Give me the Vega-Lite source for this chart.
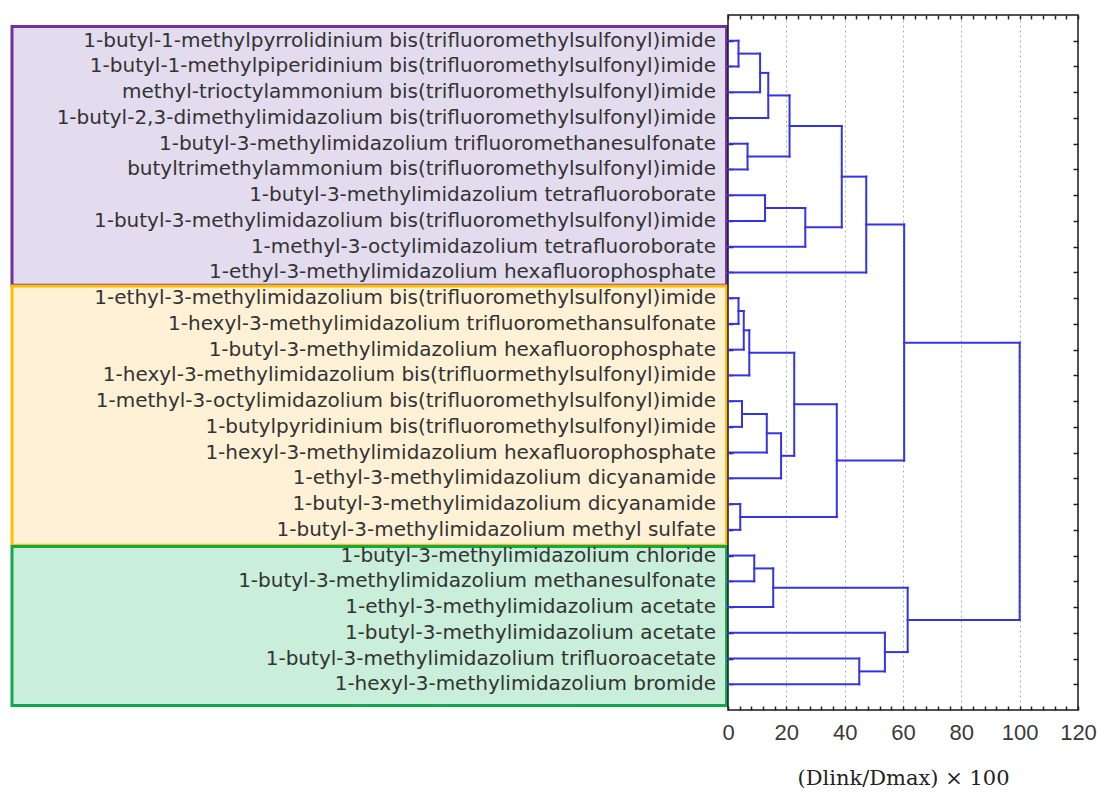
{
  "$schema": "https://vega.github.io/schema/vega-lite/v6.json",
  "padding": {"left": 10, "top": 13, "right": 5, "bottom": 5},
  "bounds": "flush",
  "spacing": 0,
  "background": "white",
  "config": {"view": {"stroke": "#1a1a1a", "strokeWidth": 1.5}},
  "datasets": {
    "groups": [
      {"group": "cluster 1", "start": -0.55, "end": 9.5},
      {"group": "cluster 2", "start": 9.53, "end": 19.6},
      {"group": "cluster 3", "start": 19.65, "end": 25.83}
    ],
    "leaves": [
      {"leaf": 0, "label": "1-butyl-1-methylpyrrolidinium  bis(trifluoromethylsulfonyl)imide"},
      {"leaf": 1, "label": "1-butyl-1-methylpiperidinium  bis(trifluoromethylsulfonyl)imide"},
      {"leaf": 2, "label": "methyl-trioctylammonium  bis(trifluoromethylsulfonyl)imide"},
      {"leaf": 3, "label": "1-butyl-2,3-dimethylimidazolium  bis(trifluoromethylsulfonyl)imide"},
      {"leaf": 4, "label": "1-butyl-3-methylimidazolium  trifluoromethanesulfonate"},
      {"leaf": 5, "label": "butyltrimethylammonium  bis(trifluoromethylsulfonyl)imide"},
      {"leaf": 6, "label": "1-butyl-3-methylimidazolium  tetrafluoroborate"},
      {"leaf": 7, "label": "1-butyl-3-methylimidazolium  bis(trifluoromethylsulfonyl)imide"},
      {"leaf": 8, "label": "1-methyl-3-octylimidazolium  tetrafluoroborate"},
      {"leaf": 9, "label": "1-ethyl-3-methylimidazolium  hexafluorophosphate"},
      {"leaf": 10, "label": "1-ethyl-3-methylimidazolium  bis(trifluoromethylsulfonyl)imide"},
      {"leaf": 11, "label": "1-hexyl-3-methylimidazolium  trifluoromethansulfonate"},
      {"leaf": 12, "label": "1-butyl-3-methylimidazolium  hexafluorophosphate"},
      {"leaf": 13, "label": "1-hexyl-3-methylimidazolium  bis(trifluormethylsulfonyl)imide"},
      {"leaf": 14, "label": "1-methyl-3-octylimidazolium  bis(trifluoromethylsulfonyl)imide"},
      {"leaf": 15, "label": "1-butylpyridinium  bis(trifluoromethylsulfonyl)imide"},
      {"leaf": 16, "label": "1-hexyl-3-methylimidazolium  hexafluorophosphate"},
      {"leaf": 17, "label": "1-ethyl-3-methylimidazolium  dicyanamide"},
      {"leaf": 18, "label": "1-butyl-3-methylimidazolium  dicyanamide"},
      {"leaf": 19, "label": "1-butyl-3-methylimidazolium  methyl sulfate"},
      {"leaf": 20, "label": "1-butyl-3-methylimidazolium  chloride"},
      {"leaf": 21, "label": "1-butyl-3-methylimidazolium  methanesulfonate"},
      {"leaf": 22, "label": "1-ethyl-3-methylimidazolium  acetate"},
      {"leaf": 23, "label": "1-butyl-3-methylimidazolium  acetate"},
      {"leaf": 24, "label": "1-butyl-3-methylimidazolium  trifluoroacetate"},
      {"leaf": 25, "label": "1-hexyl-3-methylimidazolium  bromide"}
    ],
    "segs": [
      {"x": 0, "x2": 3.6, "y": 0, "y2": 0},
      {"x": 0, "x2": 3.6, "y": 1, "y2": 1},
      {"x": 3.6, "x2": 3.6, "y": 0, "y2": 1},
      {"x": 3.6, "x2": 11, "y": 0.5, "y2": 0.5},
      {"x": 0, "x2": 11, "y": 2, "y2": 2},
      {"x": 11, "x2": 11, "y": 0.5, "y2": 2},
      {"x": 11, "x2": 13.8, "y": 1.25, "y2": 1.25},
      {"x": 0, "x2": 13.8, "y": 3, "y2": 3},
      {"x": 13.8, "x2": 13.8, "y": 1.25, "y2": 3},
      {"x": 0, "x2": 6.7, "y": 4, "y2": 4},
      {"x": 0, "x2": 6.7, "y": 5, "y2": 5},
      {"x": 6.7, "x2": 6.7, "y": 4, "y2": 5},
      {"x": 13.8, "x2": 21.1, "y": 2.125, "y2": 2.125},
      {"x": 6.7, "x2": 21.1, "y": 4.5, "y2": 4.5},
      {"x": 21.1, "x2": 21.1, "y": 2.125, "y2": 4.5},
      {"x": 0, "x2": 12.7, "y": 6, "y2": 6},
      {"x": 0, "x2": 12.7, "y": 7, "y2": 7},
      {"x": 12.7, "x2": 12.7, "y": 6, "y2": 7},
      {"x": 12.7, "x2": 26.5, "y": 6.5, "y2": 6.5},
      {"x": 0, "x2": 26.5, "y": 8, "y2": 8},
      {"x": 26.5, "x2": 26.5, "y": 6.5, "y2": 8},
      {"x": 21.1, "x2": 39, "y": 3.3125, "y2": 3.3125},
      {"x": 26.5, "x2": 39, "y": 7.25, "y2": 7.25},
      {"x": 39, "x2": 39, "y": 3.3125, "y2": 7.25},
      {"x": 39, "x2": 47.4, "y": 5.28, "y2": 5.28},
      {"x": 0, "x2": 47.4, "y": 9, "y2": 9},
      {"x": 47.4, "x2": 47.4, "y": 5.28, "y2": 9},
      {"x": 0, "x2": 3.6, "y": 10, "y2": 10},
      {"x": 0, "x2": 3.6, "y": 11, "y2": 11},
      {"x": 3.6, "x2": 3.6, "y": 10, "y2": 11},
      {"x": 3.6, "x2": 5.4, "y": 10.5, "y2": 10.5},
      {"x": 0, "x2": 5.4, "y": 12, "y2": 12},
      {"x": 5.4, "x2": 5.4, "y": 10.5, "y2": 12},
      {"x": 5.4, "x2": 7.3, "y": 11.25, "y2": 11.25},
      {"x": 0, "x2": 7.3, "y": 13, "y2": 13},
      {"x": 7.3, "x2": 7.3, "y": 11.25, "y2": 13},
      {"x": 0, "x2": 4.8, "y": 14, "y2": 14},
      {"x": 0, "x2": 4.8, "y": 15, "y2": 15},
      {"x": 4.8, "x2": 4.8, "y": 14, "y2": 15},
      {"x": 4.8, "x2": 13.3, "y": 14.5, "y2": 14.5},
      {"x": 0, "x2": 13.3, "y": 16, "y2": 16},
      {"x": 13.3, "x2": 13.3, "y": 14.5, "y2": 16},
      {"x": 13.3, "x2": 18.2, "y": 15.25, "y2": 15.25},
      {"x": 0, "x2": 18.2, "y": 17, "y2": 17},
      {"x": 18.2, "x2": 18.2, "y": 15.25, "y2": 17},
      {"x": 7.3, "x2": 22.7, "y": 12.125, "y2": 12.125},
      {"x": 18.2, "x2": 22.7, "y": 16.125, "y2": 16.125},
      {"x": 22.7, "x2": 22.7, "y": 12.125, "y2": 16.125},
      {"x": 0, "x2": 4.2, "y": 18, "y2": 18},
      {"x": 0, "x2": 4.2, "y": 19, "y2": 19},
      {"x": 4.2, "x2": 4.2, "y": 18, "y2": 19},
      {"x": 22.7, "x2": 37.3, "y": 14.125, "y2": 14.125},
      {"x": 4.2, "x2": 37.3, "y": 18.5, "y2": 18.5},
      {"x": 37.3, "x2": 37.3, "y": 14.125, "y2": 18.5},
      {"x": 47.4, "x2": 60.4, "y": 7.14, "y2": 7.14},
      {"x": 37.3, "x2": 60.4, "y": 16.31, "y2": 16.31},
      {"x": 60.4, "x2": 60.4, "y": 7.14, "y2": 16.31},
      {"x": 0, "x2": 9, "y": 20, "y2": 20},
      {"x": 0, "x2": 9, "y": 21, "y2": 21},
      {"x": 9, "x2": 9, "y": 20, "y2": 21},
      {"x": 9, "x2": 15.5, "y": 20.5, "y2": 20.5},
      {"x": 0, "x2": 15.5, "y": 22, "y2": 22},
      {"x": 15.5, "x2": 15.5, "y": 20.5, "y2": 22},
      {"x": 0, "x2": 45, "y": 24, "y2": 24},
      {"x": 0, "x2": 45, "y": 25, "y2": 25},
      {"x": 45, "x2": 45, "y": 24, "y2": 25},
      {"x": 0, "x2": 53.8, "y": 23, "y2": 23},
      {"x": 45, "x2": 53.8, "y": 24.5, "y2": 24.5},
      {"x": 53.8, "x2": 53.8, "y": 23, "y2": 24.5},
      {"x": 15.5, "x2": 61.6, "y": 21.25, "y2": 21.25},
      {"x": 53.8, "x2": 61.6, "y": 23.75, "y2": 23.75},
      {"x": 61.6, "x2": 61.6, "y": 21.25, "y2": 23.75},
      {"x": 60.4, "x2": 100, "y": 11.73, "y2": 11.73},
      {"x": 61.6, "x2": 100, "y": 22.5, "y2": 22.5},
      {"x": 100, "x2": 100, "y": 11.73, "y2": 22.5}
    ]
  },
  "hconcat": [
    {
      "width": 716,
      "height": 695,
      "view": {"stroke": null},
      "layer": [
        {
          "data": {"name": "groups"},
          "mark": {"type": "rect", "strokeWidth": 3},
          "encoding": {
            "x": {"datum": 0, "type": "quantitative", "scale": {"domain": [0, 1], "nice": false, "zero": false}, "axis": null},
            "x2": {"datum": 0.998},
            "y": {"field": "start", "type": "quantitative", "scale": {"domain": [-1, 26], "reverse": true, "nice": false, "zero": false}, "axis": null},
            "y2": {"field": "end"},
            "fill": {"field": "group", "type": "nominal", "scale": {"domain": ["cluster 1", "cluster 2", "cluster 3"], "range": ["#e3dcef", "#fff1d6", "#c9eed9"]}, "legend": null},
            "stroke": {"field": "group", "type": "nominal", "scale": {"domain": ["cluster 1", "cluster 2", "cluster 3"], "range": ["#7030a0", "#ffbf00", "#12a850"]}, "legend": null}
          }
        },
        {
          "data": {"name": "leaves"},
          "mark": {"type": "text", "align": "right", "baseline": "middle", "dx": -12, "font": "DejaVu Sans", "fontSize": 20, "color": "#333333"},
          "encoding": {
            "x": {"datum": 1, "type": "quantitative"},
            "y": {"field": "leaf", "type": "quantitative"},
            "text": {"field": "label", "type": "nominal"}
          }
        }
      ]
    },
    {
      "width": 350,
      "height": 695,
      "layer": [
        {
          "data": {"name": "segs"},
          "mark": {"type": "rule", "color": "#3434e6", "strokeWidth": 2, "strokeCap": "square"},
          "encoding": {
            "x": {"field": "x", "type": "quantitative", "scale": {"domain": [0, 120], "nice": false},
              "axis": {"orient": "top", "values": [0,4,8,12,16,20,24,28,32,36,40,44,48,52,56,60,64,68,72,76,80,84,88,92,96,100,104,108,112,116,120], "labels": false, "tickSize": -4, "tickColor": "#222", "tickWidth": 1.5, "domain": false, "grid": false, "title": null}},
            "x2": {"field": "x2"},
            "y": {"field": "y", "type": "quantitative", "scale": {"domain": [-1, 26], "reverse": true, "nice": false, "zero": false},
              "axis": {"orient": "right", "values": [0,1,2,3,4,5,6,7,8,9,10,11,12,13,14,15,16,17,18,19,20,21,22,23,24,25], "labels": false, "tickSize": -5, "tickColor": "#222", "tickWidth": 1.5, "domain": false, "grid": false, "title": null}},
            "y2": {"field": "y2"}
          }
        },
        {
          "data": {"name": "segs"},
          "mark": {"type": "rule", "opacity": 0},
          "encoding": {
            "x": {"field": "x", "type": "quantitative",
              "axis": {"orient": "bottom", "values": [0,4,8,12,16,20,24,28,32,36,40,44,48,52,56,60,64,68,72,76,80,84,88,92,96,100,104,108,112,116,120], "labelExpr": "datum.value % 20 === 0 ? datum.label : ''", "labelOverlap": false, "labelFlush": false, "labelBound": false, "tickSize": -4, "tickColor": "#222", "tickWidth": 1.5, "labelPadding": 16, "labelFontSize": 22, "labelFont": "Liberation Sans", "labelColor": "#3a3a3a", "domain": false, "grid": false, "title": "(Dlink/Dmax) × 100", "titleFont": "DejaVu Serif", "titleFontSize": 21, "titleFontWeight": "normal", "titleColor": "#222", "titlePadding": 24}},
            "y": {"field": "y", "type": "quantitative",
              "axis": {"orient": "left", "values": [0,1,2,3,4,5,6,7,8,9,10,11,12,13,14,15,16,17,18,19,20,21,22,23,24,25], "labels": false, "tickSize": -5, "tickColor": "#222", "tickWidth": 1.5, "domain": false, "grid": false, "title": null}}
          }
        },
        {
          "data": {"name": "segs"},
          "mark": {"type": "rule", "opacity": 0},
          "encoding": {
            "x": {"field": "x", "type": "quantitative",
              "axis": {"orient": "top", "values": [20, 40, 60, 80, 100], "grid": true, "gridDash": [2, 3], "gridColor": "#b0b0b0", "gridWidth": 1, "ticks": false, "labels": false, "domain": false, "title": null}},
            "y": {"field": "y", "type": "quantitative", "axis": null}
          }
        }
      ],
      "resolve": {"axis": {"x": "independent", "y": "independent"}}
    }
  ]
}
